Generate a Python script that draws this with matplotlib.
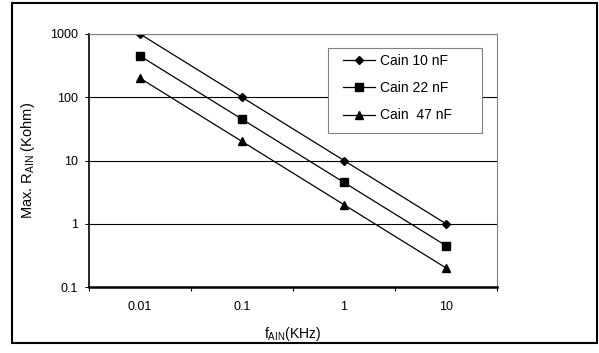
import matplotlib
matplotlib.use('Agg')
import matplotlib.pyplot as plt
from matplotlib.patches import Rectangle

plt.rcParams['font.family'] = ['Liberation Sans', 'DejaVu Sans']
plt.rcParams['mathtext.fontset'] = 'custom'
plt.rcParams['mathtext.rm'] = 'Liberation Sans'
plt.rcParams['mathtext.it'] = 'Liberation Sans'

categories = ['0.01', '0.1', '1', '10']
cain_10nF = [1000, 100, 10, 1]
cain_22nF = [450, 45, 4.5, 0.45]
cain_47nF = [200, 20, 2, 0.2]
series_labels = ['Cain 10 nF', 'Cain 22 nF', 'Cain  47 nF']

fig = plt.figure(figsize=(5.99, 3.53), dpi=100)
ax = fig.add_axes([89/599, 66/353, 408/599, 253/353])

xs = list(range(len(categories)))
l1, = ax.plot(xs, cain_10nF, '-D', color='black', lw=0.9, ms=4, label=series_labels[0])
l2, = ax.plot(xs, cain_22nF, '-s', color='black', lw=0.9, ms=5.5, label=series_labels[1])
l3, = ax.plot(xs, cain_47nF, '-^', color='black', lw=0.9, ms=5.5, label=series_labels[2])

ax.set_yscale('log')
ax.set_ylim(0.1, 1000)
ax.set_xlim(-0.5, len(categories) - 0.5)
ax.set_yticks([0.1, 1, 10, 100, 1000])
ax.set_yticklabels(['0.1', '1', '10', '100', '1000'])
ax.yaxis.set_minor_locator(matplotlib.ticker.NullLocator())
for v in [1, 10, 100, 1000]:
    ax.axhline(v, color='black', lw=0.8, zorder=0)

ax.set_xticks(xs)
ax.set_xticklabels(categories)
ax.set_xticks([i - 0.5 for i in range(len(categories) + 1)], minor=True)
ax.tick_params(axis='x', which='major', length=0, pad=10, labelsize=9)
ax.tick_params(axis='x', which='minor', length=3, direction='out', width=0.8)
ax.tick_params(axis='y', which='major', length=3, direction='out', width=0.8, labelsize=9, pad=5)

ax.spines['left'].set_linewidth(1.2)
ax.spines['bottom'].set_linewidth(1.8)
ax.spines['top'].set_color('gray')
ax.spines['right'].set_color('gray')
ax.spines['top'].set_linewidth(0.8)
ax.spines['right'].set_linewidth(0.8)

ax.set_ylabel(r'Max. R$_{\mathrm{AIN}}$ (Kohm)', fontsize=10.5, labelpad=9)
ax.set_xlabel(r'f$_{\mathrm{AIN}}$(KHz)', fontsize=10, labelpad=9)

# legend box drawn by hand so it can be wider than the text
fig.patches.append(Rectangle((328/599, 1 - 133/353), 154/599, 85/353,
                             transform=fig.transFigure, facecolor='white',
                             edgecolor='gray', lw=0.8, zorder=1))
leg = fig.legend(handles=[l1, l2, l3], loc='upper left',
                 bbox_to_anchor=(343/599, 1 - 54/353), fontsize=10,
                 frameon=False, borderpad=0, borderaxespad=0,
                 handlelength=2.3, handletextpad=0.4, numpoints=1,
                 labelspacing=0.95)

fig.patches.append(Rectangle((12/599, 10/353), 585/599, 340/353,
                             transform=fig.transFigure, fill=False,
                             edgecolor='black', lw=1.5))

plt.savefig('out.png', dpi=100)
